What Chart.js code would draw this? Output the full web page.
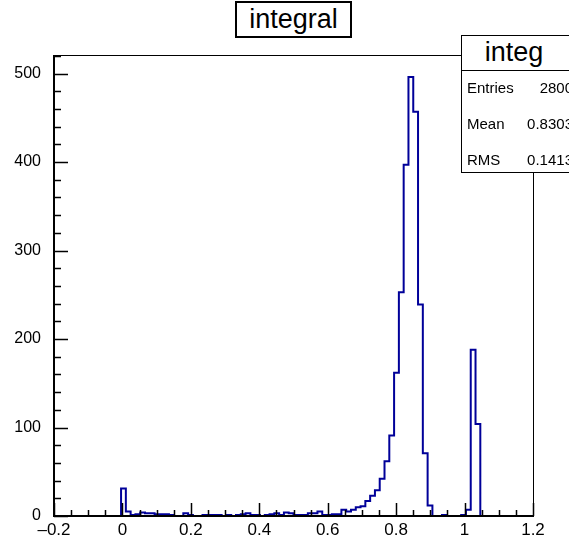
<!DOCTYPE html>
<html>
<head>
<meta charset="utf-8">
<script src="https://cdn.jsdelivr.net/npm/chart.js@4.4.0/dist/chart.umd.min.js"></script>
<style>
  body { margin: 0; background: #fff; overflow: hidden; }
  #wrap { position: relative; width: 569px; height: 540px; }
  #title {
    position: absolute; left: 235px; top: 1px; width: 113px; height: 33px;
    border: 2px solid #000; background: #fff;
    font: 27px "Liberation Sans", Arial, sans-serif; text-align: center; line-height: 33px;
  }
  #stats {
    position: absolute; left: 461px; top: 35px; width: 130px; height: 136px;
    border: 1px solid #000; background: #fff;
    font: 15px "Liberation Sans", Arial, sans-serif;
  }
  #stats .head { height: 34px; border-bottom: 1px solid #000; font-size: 27px; line-height: 32px; text-align: center; padding-right: 26px; }
  #stats .row { position: relative; height: 36px; line-height: 34px; padding-left: 5px; }
  #stats .row span { position: absolute; right: 19px; }
</style>
</head>
<body>
<div id="wrap">
  <canvas id="myChart" width="569" height="540"></canvas>
  <div id="title">integral</div>
  <div id="stats">
    <div class="head">integ</div>
    <div class="row">Entries<span id="sEntries"></span></div>
    <div class="row">Mean<span id="sMean"></span></div>
    <div class="row">RMS<span id="sRms"></span></div>
  </div>
</div>
<script>
// histogram: 100 bins from -0.2 to 1.2
const xMin = -0.2;
const xMax = 1.2;
const binWidth = 0.014;
const counts = [
  0, 0, 0, 0, 0, 0, 0, 0, 0, 0,
  0, 0, 0, 0, 31, 5, 1, 2, 4, 3,
  3, 2, 2, 2, 1, 0, 0, 3, 1, 0,
  0, 1, 1, 1, 1, 0, 1, 0, 1, 2,
  3, 1, 1, 0, 1, 2, 3, 1, 4, 3,
  1, 1, 1, 3, 3, 5, 1, 1, 2, 2,
  7, 5, 7, 10, 11, 17, 23, 29, 42, 62,
  91, 162, 253, 397, 496, 457, 239, 71, 12, 0,
  0, 1, 0, 0, 0, 1, 7, 188, 104, 0,
  0, 0, 0, 0, 0, 0, 0, 0, 0, 0
];
const yMax = 521;
const xTickStep = 0.2;
const yTickStep = 100;
const statLabels = ['Entries', 'Mean', 'RMS'];
const statValues = ['2800', '0.8303', '0.1413'];

document.getElementById('sEntries').textContent = statValues[0];
document.getElementById('sMean').textContent = statValues[1];
document.getElementById('sRms').textContent = statValues[2];

// step points at bin left edges, closing at the upper edge
const points = counts.map((c, i) => ({ x: xMin + i * binWidth, y: c }));
points.push({ x: xMax, y: 0 });

const fmtX = (v) => {
  const r = Math.round(v * 10) / 10;
  return r < 0 ? '\u2013' + Math.abs(r) : String(r);
};

// ROOT-like frame with ticks pointing inwards
const framePlugin = {
  id: 'frame',
  afterDatasetsDraw(chart) {
    const ctx = chart.ctx;
    const { left, right, top, bottom } = chart.chartArea;
    const xs = chart.scales.x, ys = chart.scales.y;
    ctx.save();
    ctx.strokeStyle = '#000';
    ctx.lineWidth = 1;
    ctx.strokeRect(left + 0.5, top + 0.5, right - left, bottom - top);
    ctx.lineWidth = 2;
    ctx.beginPath();
    ctx.moveTo(left, top);
    ctx.lineTo(left, bottom);
    ctx.lineTo(right + 1, bottom);
    ctx.stroke();

    ctx.lineWidth = 1.5;
    ctx.beginPath();
    for (let i = 0; i <= 28; i++) {
      const px = Math.round(xs.getPixelForValue(xMin + i * 0.05)) + 0.5;
      const len = i % 4 === 0 ? 13 : 6;
      ctx.moveTo(px, bottom);
      ctx.lineTo(px, bottom - len);
    }
    for (let v = 0; v <= yMax; v += 20) {
      const py = Math.round(ys.getPixelForValue(v)) + 0.5;
      const len = v % 100 === 0 ? 14 : 7;
      ctx.moveTo(left, py);
      ctx.lineTo(left + len, py);
    }
    ctx.stroke();
    ctx.restore();
  }
};

const ctx = document.getElementById('myChart');
new Chart(ctx, {
  type: 'line',
  data: {
    datasets: [{
      data: points,
      borderColor: '#000099',
      borderWidth: 2,
      pointRadius: 0,
      stepped: 'before',
      fill: false,
      tension: 0
    }]
  },
  options: {
    responsive: false,
    animation: false,
    layout: { padding: { left: 0, right: 36, top: 55, bottom: 0 } },
    plugins: { legend: { display: false }, tooltip: { enabled: false }, title: { display: false } },
    scales: {
      x: {
        type: 'linear',
        min: xMin,
        max: xMax,
        border: { display: false },
        grid: { display: false, drawTicks: false },
        afterFit: (scale) => { scale.height = 24; },
        ticks: {
          stepSize: xTickStep,
          autoSkip: false,
          maxRotation: 0,
          padding: 4,
          color: '#000',
          font: { family: '"Liberation Sans", Arial, sans-serif', size: 17 },
          callback: (v) => fmtX(v)
        }
      },
      y: {
        min: 0,
        max: yMax,
        border: { display: false },
        grid: { display: false, drawTicks: false },
        afterFit: (scale) => { scale.width = 54; },
        ticks: {
          stepSize: yTickStep,
          includeBounds: false,
          padding: 13,
          color: '#000',
          font: { family: '"Liberation Sans", Arial, sans-serif', size: 16 }
        }
      }
    }
  },
  plugins: [framePlugin]
});
</script>
</body>
</html>
